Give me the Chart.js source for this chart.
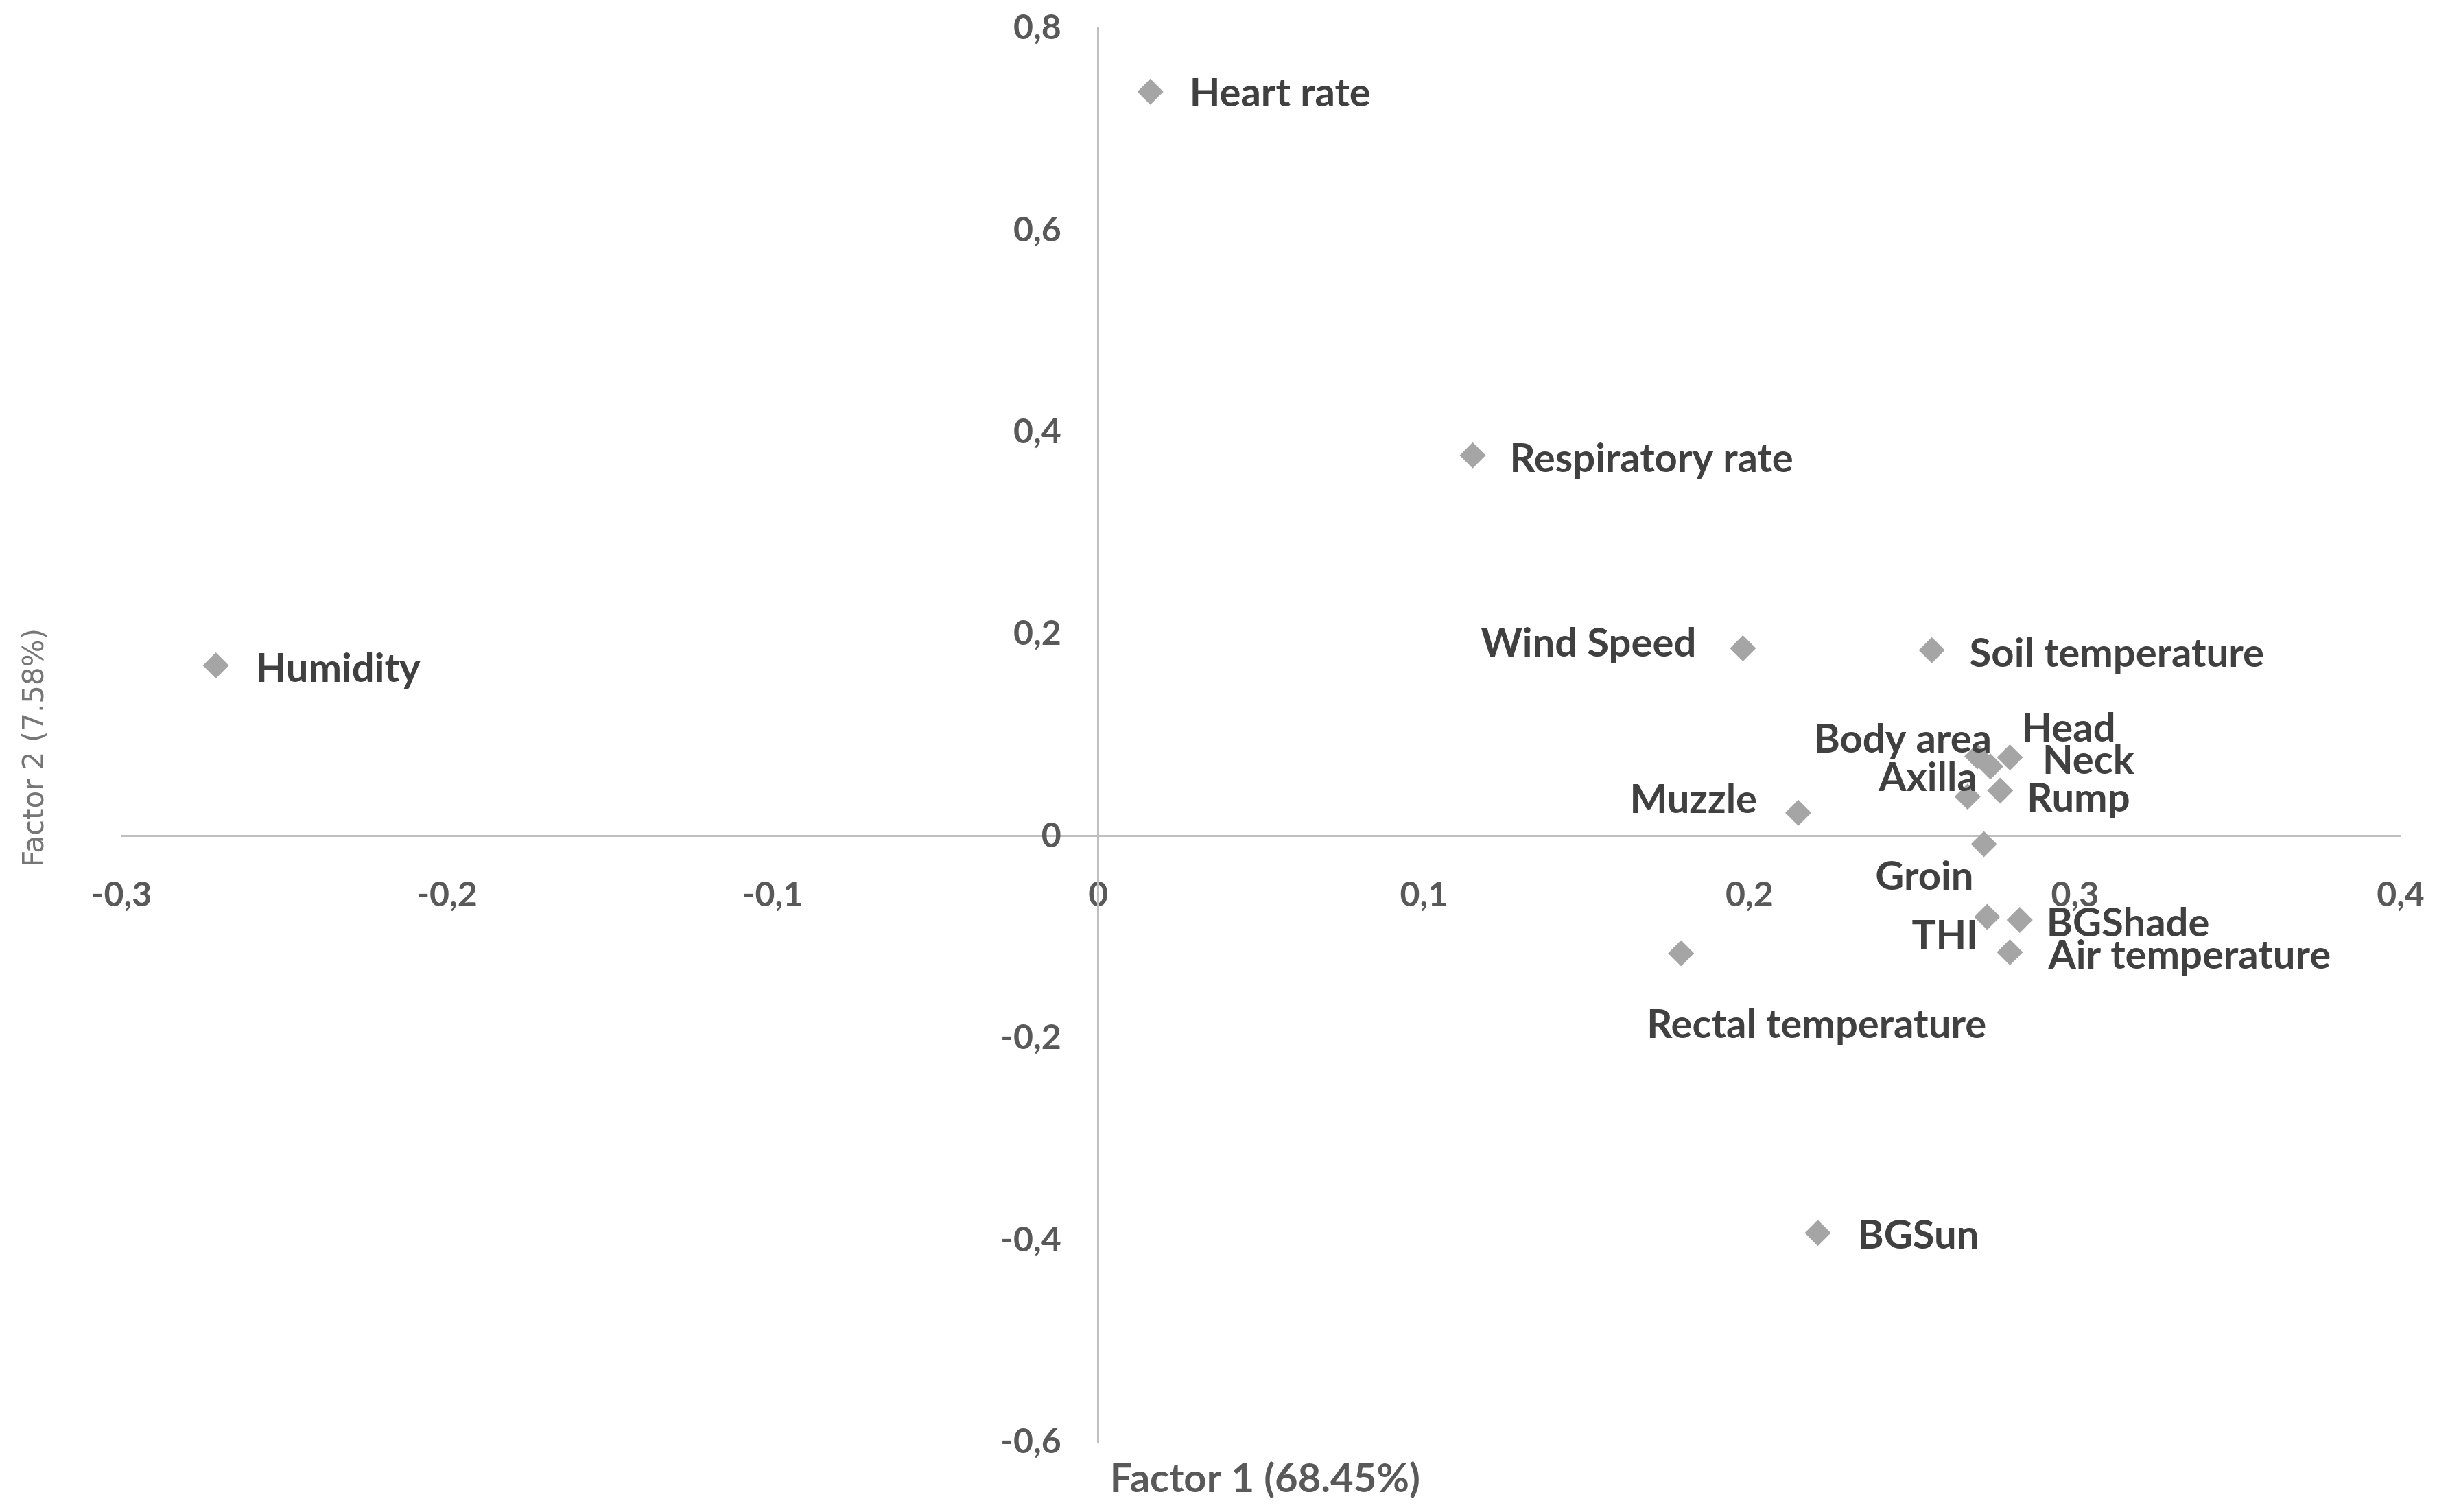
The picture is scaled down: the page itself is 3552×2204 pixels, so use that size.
<!DOCTYPE html>
<html>
<head>
<meta charset="utf-8">
<script src="https://cdn.jsdelivr.net/npm/chart.js@4/dist/chart.umd.min.js"></script>
<style>
  html, body { margin: 0; padding: 0; background: #fff; }
  #wrap { width: 3552px; height: 2204px; }
</style>
</head>
<body>
<div id="wrap"><canvas id="pca" width="3552" height="2204"></canvas></div>
<script>
// PCA loadings
const variables = ['Heart rate', 'Respiratory rate', 'Humidity', 'Wind Speed', 'Soil temperature',
  'Body area', 'Head', 'Neck', 'Axilla', 'Rump', 'Muzzle', 'Groin', 'THI', 'BGShade',
  'Air temperature', 'Rectal temperature', 'BGSun'];
const factor1 = [0.016, 0.115, -0.271, 0.198, 0.256, 0.270, 0.280, 0.274, 0.267, 0.277,
  0.215, 0.272, 0.273, 0.283, 0.280, 0.179, 0.221];
const factor2 = [0.737, 0.377, 0.169, 0.186, 0.184, 0.079, 0.078, 0.069, 0.039, 0.045,
  0.023, -0.008, -0.080, -0.083, -0.115, -0.116, -0.393];

const xTicks = [-0.3, -0.2, -0.1, 0, 0.1, 0.2, 0.3, 0.4];
const yTicks = [-0.6, -0.4, -0.2, 0, 0.2, 0.4, 0.6, 0.8];
const xTitle = 'Factor 1 (68.45%)';
const yTitle = 'Factor 2 (7.58%)';

// where each data label sits relative to its marker (px, align) - placed by hand in the original
const labelPlace = [
  [57, 3, 'left'], [54, 6, 'left'], [58, 5, 'left'], [-68, -7, 'right'], [55, 5, 'left'],
  [21, -24, 'right'], [17, -42, 'left'], [76, -8, 'left'], [14, -27, 'right'], [39, 12, 'left'],
  [-60, -19, 'right'], [-15, 48, 'right'], [-13, 28, 'right'], [39, 5, 'left'],
  [56, 5, 'left'], [-50, 105, 'left'], [58, 4, 'left']
];

const points = factor1.map((x, i) => ({x: x, y: factor2[i]}));
const tickFont = 'bold 50px Lato';

function commaNum(v){
  const r = Math.round(v * 10) / 10;
  return r === 0 ? '0' : String(r).replace('.', ',');
}

// centred axes: no extra layout padding from the tick labels
function noPad(s){ s.paddingTop = s.paddingBottom = s.paddingLeft = s.paddingRight = 0; }

const pointLabels = {
  id: 'pointLabels',
  afterDatasetsDraw(chart){
    const ctx = chart.ctx;
    const meta = chart.getDatasetMeta(0);
    ctx.save();
    ctx.font = 'bold 58px Lato';
    ctx.fillStyle = '#404040';
    ctx.textBaseline = 'middle';
    meta.data.forEach((pt, i) => {
      const p = labelPlace[i];
      ctx.textAlign = p[2];
      ctx.fillText(variables[i], pt.x + p[0], pt.y + p[1]);
    });
    ctx.restore();
  }
};

const axisText = {
  id: 'axisText',
  afterDraw(chart){
    const ctx = chart.ctx;
    const xs = chart.scales.x, ys = chart.scales.y;
    const x0 = xs.getPixelForValue(0);
    ctx.save();
    // y tick labels, left of the vertical axis
    ctx.fillStyle = '#595959';
    ctx.font = tickFont;
    ctx.textAlign = 'right';
    ctx.textBaseline = 'middle';
    ys.ticks.forEach(t => {
      ctx.fillText(commaNum(t.value), x0 - 54, ys.getPixelForValue(t.value));
    });
    // axis titles
    ctx.font = 'bold 58px Lato';
    ctx.textAlign = 'left';
    ctx.fillText(xTitle, x0 + 17, ys.bottom + 54);
    ctx.translate(52, 1090);
    ctx.rotate(-Math.PI / 2);
    ctx.fillStyle = '#767676';
    ctx.font = '42px "DejaVu Sans"';
    ctx.textAlign = 'center';
    ctx.fillText(yTitle, 0, 0);
    ctx.restore();
  }
};

new Chart(document.getElementById('pca'), {
  type: 'scatter',
  data: {
    datasets: [{
      data: points,
      pointStyle: 'rectRot',
      pointRadius: 19,
      pointHoverRadius: 19,
      backgroundColor: '#a5a5a5',
      borderColor: '#a5a5a5',
      borderWidth: 0
    }]
  },
  options: {
    responsive: false,
    animation: false,
    devicePixelRatio: 1,
    layout: { padding: { left: 177, right: 53, top: 41, bottom: 102 } },
    plugins: { legend: { display: false }, tooltip: { enabled: false } },
    scales: {
      x: {
        type: 'linear',
        min: -0.3, max: 0.4,
        position: { y: 0 },
        afterBuildTicks: s => { s.ticks = xTicks.map(v => ({value: v})); },
        afterFit: noPad,
        grid: { display: false, drawTicks: false },
        border: { display: true, color: '#bfbfbf', width: 3 },
        ticks: {
          color: '#595959', font: { family: 'Lato', size: 50, weight: 'bold' },
          padding: 56, maxRotation: 0, autoSkip: false,
          callback: v => commaNum(v)
        }
      },
      y: {
        type: 'linear',
        min: -0.6, max: 0.8,
        position: { x: 0 },
        afterBuildTicks: s => { s.ticks = yTicks.map(v => ({value: v})); },
        afterFit: noPad,
        grid: { display: false, drawTicks: false },
        border: { display: true, color: '#bfbfbf', width: 3 },
        ticks: { display: false }
      }
    }
  },
  plugins: [pointLabels, axisText]
});
</script>
</body>
</html>
